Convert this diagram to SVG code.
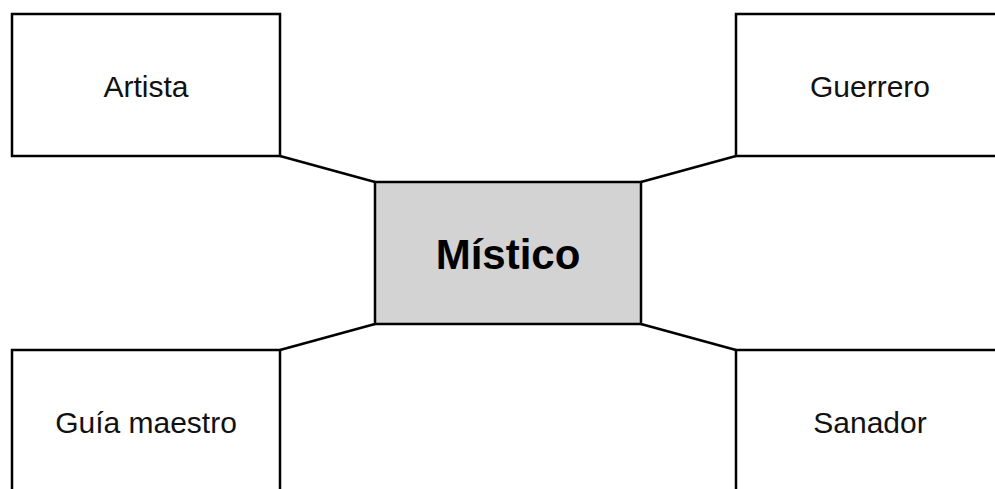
<svg xmlns="http://www.w3.org/2000/svg" width="995" height="489" viewBox="0 0 995 489">
<style>
.box{fill:#fff;stroke:#000;stroke-width:2.5}
.center{fill:#d3d3d3;stroke:#000;stroke-width:2.5}
.lbl{font-family:"Liberation Sans",Arial,sans-serif;font-size:30px;fill:#111;text-anchor:middle}
.main{font-family:"Liberation Sans",Arial,sans-serif;font-size:42px;font-weight:bold;fill:#000;text-anchor:middle}
.conn{stroke:#000;stroke-width:2.5;fill:none}
</style>
<rect width="995" height="489" fill="#fff"/>
<g id="connectors">
<line class="conn" x1="280" y1="156" x2="375" y2="182"/>
<line class="conn" x1="280" y1="350" x2="375" y2="324"/>
<line class="conn" x1="641" y1="182" x2="736" y2="156"/>
<line class="conn" x1="641" y1="324" x2="736" y2="350"/>
</g>
<g id="artista">
<rect class="box" x="12" y="14" width="268" height="142"/>
<text class="lbl" x="146" y="97">Artista</text>
</g>
<g id="guerrero">
<rect class="box" x="736" y="14" width="268" height="142"/>
<text class="lbl" x="870" y="97">Guerrero</text>
</g>
<g id="mistico">
<rect class="center" x="375" y="182" width="266" height="142"/>
<text class="main" x="508" y="269">Místico</text>
</g>
<g id="guia">
<rect class="box" x="12" y="350" width="268" height="150"/>
<text class="lbl" x="146" y="433">Guía maestro</text>
</g>
<g id="sanador">
<rect class="box" x="736" y="350" width="268" height="150"/>
<text class="lbl" x="870" y="433">Sanador</text>
</g>
</svg>
